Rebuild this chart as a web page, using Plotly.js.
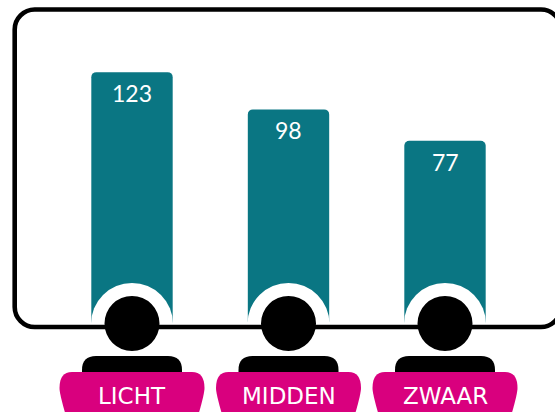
<!DOCTYPE html>
<html>
<head>
<meta charset="utf-8">
<script src="https://cdn.plot.ly/plotly-3.0.1.min.js"></script>
<style>html,body{margin:0;padding:0;background:#fff;overflow:hidden}#c{width:555px;height:412px}</style>
</head>
<body>
<div id="c"></div>
<script>
const categories = ["LICHT", "MIDDEN", "ZWAAR"];
const values = [123, 98, 77];
const floorValue = -47.6;

const W = 555, H = 412;
const fx = p => (p / W).toFixed(5);
const fy = p => (1 - p / H).toFixed(5);
const P = (x, y) => fx(x) + "," + fy(y);

const L = 14.7, T = 9.5, R = 561, B = 327, r = 20, k = r * 0.45;
const framePath = "M" + P(L + r, T) + " L" + P(R - r, T) +
  " C" + P(R - k, T) + " " + P(R, T + k) + " " + P(R, T + r) +
  " L" + P(R, B - r) +
  " C" + P(R, B - k) + " " + P(R - k, B) + " " + P(R - r, B) +
  " L" + P(L + r, B) +
  " C" + P(L + k, B) + " " + P(L, B - k) + " " + P(L, B - r) +
  " L" + P(L, T + r) +
  " C" + P(L, T + k) + " " + P(L + k, T) + " " + P(L + r, T) + " Z";

function circle(i, cy, rad, color) {
  return {type: "circle", layer: "above", xref: "x", yref: "paper", xsizemode: "pixel", ysizemode: "pixel",
    xanchor: i, yanchor: 1 - cy / H, x0: -rad, x1: rad, y0: -rad, y1: rad,
    fillcolor: color, line: {width: 0}};
}
function pathAt(i, py, path, color) {
  return {type: "path", layer: "above", xref: "x", yref: "paper", xsizemode: "pixel", ysizemode: "pixel",
    xanchor: i, yanchor: 1 - py / H, path: path, fillcolor: color, line: {width: 0}};
}
const bodyPath = "M -36 16 L 36 16 Q 50 16 50 2 L 50 -20 L -50 -20 L -50 2 Q -50 16 -36 16 Z";
const pillPath = "M -60 0 L 60 0 Q 72.5 0 72.5 -16 Q 72.5 -22 66 -44 L -66 -44 Q -72.5 -22 -72.5 -16 Q -72.5 0 -60 0 Z";

const shapes = [];
categories.forEach((c, i) => shapes.push(circle(i, 324, 41, "#ffffff")));
shapes.push({type: "path", layer: "above", xref: "paper", yref: "paper", path: framePath,
  fillcolor: "rgba(0,0,0,0)", line: {color: "#000000", width: 4.6}});
categories.forEach((c, i) => shapes.push(circle(i, 323.5, 27.5, "#000000")));
categories.forEach((c, i) => shapes.push(pathAt(i, 372, bodyPath, "#000000")));
categories.forEach((c, i) => shapes.push(pathAt(i, 372, pillPath, "#d9007e")));

const annotations = [];
values.forEach((v, i) => annotations.push({x: i, y: v, xref: "x", yref: "y", text: String(v), showarrow: false,
  yanchor: "middle", yshift: -21, font: {family: "Lato, sans-serif", size: 23, color: "#ffffff"}}));
categories.forEach((c, i) => annotations.push({x: i, y: 1 - 396 / H, xref: "x", yref: "paper", text: c, showarrow: false,
  yanchor: "middle", font: {family: "DejaVu Sans, sans-serif", size: 23, color: "#ffffff"}}));

Plotly.newPlot("c", [{
  type: "bar",
  x: [0, 1, 2],
  y: values.map(v => v - floorValue),
  base: values.map(() => floorValue),
  width: 0.52,
  marker: {color: "#0a7683", line: {width: 0}},
  hoverinfo: "skip"
}], {
  width: W, height: H,
  margin: {l: 0, r: 0, t: 0, b: 0, pad: 0},
  paper_bgcolor: "#ffffff", plot_bgcolor: "#ffffff",
  barcornerradius: 5,
  showlegend: false,
  xaxis: {range: [-132 / 156.5, (W - 132) / 156.5], visible: false, fixedrange: true},
  yaxis: {range: [(255.4 - H) / 1.49, 255.4 / 1.49], visible: false, fixedrange: true},
  shapes: shapes,
  annotations: annotations
}, {displayModeBar: false, staticPlot: true});
</script>
</body>
</html>
